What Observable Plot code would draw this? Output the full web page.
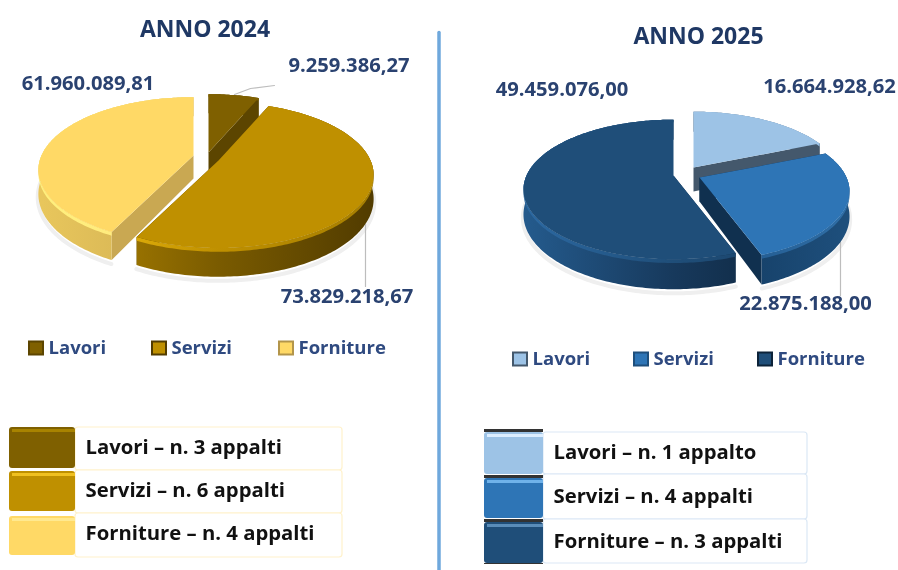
<!DOCTYPE html>
<html><head><meta charset="utf-8">
<style>html,body{margin:0;padding:0;background:#fff}svg{display:block;filter:blur(.45px)}</style>
<script src="https://cdn.jsdelivr.net/npm/d3@7"></script>
<script src="https://cdn.jsdelivr.net/npm/@observablehq/plot@0.6"></script>
</head><body><div id="chart"></div>
<script>
const categories = ["Lavori", "Servizi", "Forniture"];
const values2024 = [9259386.27, 73829218.67, 61960089.81];
const values2025 = [16664928.62, 22875188.00, 49459076.00];
const counts2024 = [3, 6, 4];
const counts2025 = [1, 4, 3];
const titles = ["ANNO 2024", "ANNO 2025"];

const FONT = "'Open Sans', Lato, sans-serif";
const NAVY = "#1f3864", LABEL = "#2a4270", LEG = "#2f4a80";
const fmt = new Intl.NumberFormat("it-IT", {minimumFractionDigits: 2, maximumFractionDigits: 2});
const K = 0.2;

// Styling and layout of each panel
const pies = [
  {values: values2024, R: 152, ry: 70, depth: 23, order: [0, 2, 1],
   apex: [[208, 152], [218, 160], [193, 155]],
   top: ["#7f6000", "#bf9000", "#ffd966"],
   cut: ["#5c4500", "#5c4500", "#c9a852"],
   rim: [["#5c4500","#5c4500","#5c4500"], ["#b08400","#7a5b00","#523c00"], ["#e8c65c","#cfae52","#b3954a"]],
   bevel: [["#7f6000","#7f6000","#7f6000"], ["#f0bd10","#bf9000","#a67e00"], ["#fff07c","#ffe680","#ffe680"]]},
  {values: values2025, R: 147, ry: 67, depth: 24, order: [0, 2, 1],
   apex: [[693, 167], [699, 177], [673, 175]],
   top: ["#9dc3e6", "#2e75b6", "#1f4e79"],
   cut: ["#44586c", "#10304f", "#10304f"],
   rim: [["#44586c","#44586c","#44586c"], ["#10304f","#123a60","#1e4f7c"], ["#245a8c","#17395c","#0c2238"]],
   bevel: [["#9dc3e6","#9dc3e6","#9dc3e6"], ["#12406a","#1e5488","#2f6ea6"], ["#2c69a2","#1f4e79","#1a4166"]]}
];

function ground(p, cx, cy, th, r, dz) {
  const s = 1 / (1 + K * Math.cos(th));
  return {x: cx + p.R * r * Math.sin(th) * s, y: cy - p.ry * r * Math.cos(th) * s + dz * s};
}
const polys = [], shadows = [], gradients = [];
let pid = 0;
function poly(pts, fill) { const z = pid++; pts.forEach(q => polys.push({x: q.x, y: q.y, z, fill})); }
function gradient(id, x1, x2, stops) { gradients.push({id, x1, x2, stops}); return `url(#${id})`; }

pies.forEach((p, pi) => {
  const arcs = d3.pie().sort(null).startAngle(0).endAngle(2 * Math.PI)(p.values);
  p.order.forEach(i => {
    const a = arcs[i], [cx, cy] = p.apex[i], step = Math.PI / 180;
    const n = Math.max(2, Math.ceil((a.endAngle - a.startAngle) / step));
    const ths = d3.range(n + 1).map(j => a.startAngle + (a.endAngle - a.startAngle) * j / n);
    const g = (th, r, dz) => ground(p, cx, cy, th, r, dz);
    ths.filter(th => Math.cos(th) < 0.25).forEach(th => {
      const q = g(th, 1.004, p.depth + 3);
      shadows.push({x: q.x, y: q.y, z: pi * 10 + i});
    });
    [a.startAngle, a.endAngle].forEach(th => {
      poly([{x: cx, y: cy}, g(th, 1, 0), g(th, 1, p.depth), {x: cx, y: cy + p.depth}], p.cut[i]);
    });
    const x1 = cx - p.R, x2 = cx + p.R;
    poly([...ths.map(th => g(th, 1, 0)), ...ths.slice().reverse().map(th => g(th, 1, p.depth))],
      gradient(`rim${pi}${i}`, x1, x2, p.rim[i]));
    poly([...ths.map(th => g(th, 1, 0)), ...ths.slice().reverse().map(th => g(th, 1, 3))],
      gradient(`bev${pi}${i}`, x1, x2, p.bevel[i]));
    poly([{x: cx, y: cy}, ...ths.map(th => g(th, 1, 0))], p.top[i]);
  });
});

const leaders = [
  {x: 234, y: 94, z: 0}, {x: 250, y: 88, z: 0}, {x: 274, y: 85, z: 0},
  {x: 365, y: 224, z: 1}, {x: 365, y: 286, z: 1},
  {x: 840, y: 240, z: 2}, {x: 840, y: 295, z: 2}
];
const divider = [{x: 438.5, y: 32}, {x: 438.5, y: 570}];

const titleRows = [
  {x: 204.5, y: 29, t: titles[0]},
  {x: 698, y: 36, t: titles[1]}
];
const valueAnchor = [
  [[348.5, 65], [346.5, 296], [87.5, 83]],
  [[829, 86], [805, 303], [561.5, 89]]
];
const valueRows = pies.flatMap((p, pi) => p.values.map((v, i) =>
  ({x: valueAnchor[pi][i][0], y: valueAnchor[pi][i][1], t: fmt.format(v)})));

const legendPos = [
  {y: 348, sw: [29, 152, 279], tx: [48, 171, 298]},
  {y: 359, sw: [513, 634, 758], tx: [532, 653, 777]}
];
const legSw = [], legTx = [];
pies.forEach((p, pi) => categories.forEach((c, i) => {
  const L = legendPos[pi];
  legSw.push({x1: L.sw[i], x2: L.sw[i] + 14, y1: L.y - 6.5, y2: L.y + 6.5, fill: p.top[i], stroke: p.rim[i][2]});
  legTx.push({x: L.tx[i], y: L.y, t: c});
}));

const boxPos = [
  {x0: 9, x1: 75, x2: 342, rows: [[427, 468], [471, 511], [516, 555]], ty: [447, 490, 533], tx: 85,
   bx: [[427, 470], [470, 513], [513, 557]], border: "#fff2cc", hi: ["#a88300", "#f0c020", "#ffe990"], sep: null},
  {x0: 484, x1: 543, x2: 807, rows: [[432, 474], [478, 518], [522, 563]], ty: [452, 496, 541], tx: 553,
   bx: [[432, 474], [474, 519], [519, 563]], border: "#dbe8f5", hi: ["#ddeeff", "#6fb2ea", "#5a8cb8"], sep: "#333"}
];
const counts = [counts2024, counts2025];
const whites = [], blocks = [], highs = [], seps = [], boxTx = [];
boxPos.forEach((b, pi) => categories.forEach((c, i) => {
  const n = counts[pi][i];
  whites.push({x1: b.x1, x2: b.x2, y1: b.bx[i][0], y2: b.bx[i][1], stroke: b.border});
  blocks.push({x1: b.x0, x2: b.x1, y1: b.rows[i][0], y2: b.rows[i][1], fill: pies[pi].top[i]});
  highs.push({x1: b.x0 + 3, x2: b.x1, y1: b.rows[i][0] + 2, y2: b.rows[i][0] + 5, fill: b.hi[i]});
  if (b.sep) seps.push({x1: b.x0, x2: b.x1, y1: b.rows[i][0] - 3, y2: b.rows[i][0]});
  boxTx.push({x: b.tx, y: b.ty[i], t: `${c} – n. ${n} ${n === 1 ? "appalto" : "appalti"}`});
}));
seps.push({x1: 484, x2: 543, y1: 563, y2: 564});

function gradientDefs() {
  const defs = d3.create("svg:defs");
  gradients.forEach(g => {
    const lg = defs.append("linearGradient").attr("id", g.id).attr("gradientUnits", "userSpaceOnUse")
      .attr("x1", g.x1).attr("x2", g.x2).attr("y1", 0).attr("y2", 0);
    g.stops.forEach((c, k) => lg.append("stop").attr("offset", k / (g.stops.length - 1)).attr("stop-color", c));
  });
  return defs.node();
}

const chart = Plot.plot({
  width: 898, height: 570, margin: 0,
  x: {domain: [0, 898], range: [0, 898], axis: null},
  y: {domain: [0, 570], range: [0, 570], axis: null},
  color: {type: "identity"},
  marks: [
    gradientDefs,
    Plot.line(divider, {x: "x", y: "y", stroke: "#6fa8dc", strokeWidth: 3.5}),
    Plot.line(shadows, {x: "x", y: "y", z: "z", stroke: "#efefef", strokeWidth: 4}),
    Plot.line(leaders, {x: "x", y: "y", z: "z", stroke: "#bdbdbd", strokeWidth: 1.2}),
    Plot.line(polys, {x: "x", y: "y", z: "z", fill: d => d.fill, stroke: "none", curve: "linear-closed"}),
    Plot.text(titleRows, {x: "x", y: "y", text: "t", fill: NAVY, fontFamily: FONT, fontWeight: 700, fontSize: 23}),
    Plot.text(valueRows, {x: "x", y: "y", text: "t", fill: LABEL, fontFamily: FONT, fontWeight: 700, fontSize: 20.2}),
    Plot.rect(legSw, {x1: "x1", x2: "x2", y1: "y1", y2: "y2", fill: d => d.fill, stroke: d => d.stroke, strokeWidth: 2}),
    Plot.text(legTx, {x: "x", y: "y", text: "t", textAnchor: "start", fill: LEG, fontFamily: FONT, fontWeight: 700, fontSize: 18.5}),
    Plot.rect(whites, {x1: "x1", x2: "x2", y1: "y1", y2: "y2", fill: "white", stroke: d => d.stroke, strokeWidth: 1.2, rx: 3}),
    Plot.rect(blocks, {x1: "x1", x2: "x2", y1: "y1", y2: "y2", fill: d => d.fill, rx: 3}),
    Plot.rect(highs, {x1: "x1", x2: "x2", y1: "y1", y2: "y2", fill: d => d.fill}),
    Plot.rect(seps, {x1: "x1", x2: "x2", y1: "y1", y2: "y2", fill: "#333"}),
    Plot.text(boxTx, {x: "x", y: "y", text: "t", textAnchor: "start", fill: "#111", fontFamily: FONT, fontWeight: 700, fontSize: 20.3})
  ]
});
document.getElementById("chart").append(chart);
</script></body></html>
